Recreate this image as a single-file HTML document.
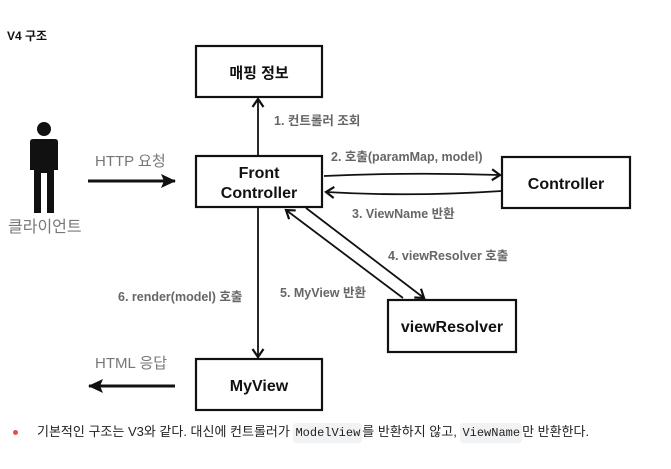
<!DOCTYPE html>
<html><head><meta charset="utf-8"><style>
body{margin:0;width:671px;height:469px;background:#fff;overflow:hidden;position:relative;font-family:"Liberation Sans","Noto Sans CJK KR",sans-serif}
svg{position:absolute;left:0;top:0}
.b{position:absolute;left:37px;top:423px;font-size:13px;color:#222;white-space:nowrap;line-height:18px;font-family:"Liberation Sans","Noto Sans CJK KR",sans-serif}
code{font-family:"Liberation Mono",monospace;font-size:12px;background:#f1f2f4;padding:3px 2px;border-radius:3px}
.dot{position:absolute;left:13px;top:430px;width:5px;height:5px;border-radius:50%;background:#e05050}
</style></head><body>
<svg width="671" height="469" viewBox="0 0 671 469">
<defs><marker id="a" markerWidth="14" markerHeight="14" refX="10" refY="7" orient="auto" markerUnits="userSpaceOnUse"><path d="M2,1.5 L10,7 L2,12.5" fill="none" stroke="#111" stroke-width="2.2"/></marker>
<marker id="t" markerWidth="16" markerHeight="16" refX="14" refY="8" orient="auto" markerUnits="userSpaceOnUse"><path d="M0,1 L15,8 L0,15 L3,8Z" fill="#111"/></marker></defs>
<text x="7" y="40" font-size="12" font-weight="bold" fill="#111">V4 구조</text>
<g fill="#fff" stroke="#111" stroke-width="2.2">
<rect x="196" y="46" width="126" height="51"/>
<rect x="196" y="156" width="126" height="51"/>
<rect x="502" y="157" width="128" height="51"/>
<rect x="388" y="300" width="128" height="52"/>
<rect x="196" y="359" width="126" height="51"/>
</g>
<g font-size="16" fill="#111" text-anchor="middle" font-weight="bold">
<text x="259" y="78" font-size="15">매핑 정보</text>
<text x="259" y="178">Front</text><text x="259" y="198">Controller</text>
<text x="566" y="189">Controller</text>
<text x="452" y="332">viewResolver</text>
<text x="259" y="391">MyView</text>
</g>
<g stroke="#111" stroke-width="1.8" fill="none" marker-end="url(#a)">
<path d="M258 156 L258 99"/>
<path d="M324 176 Q410 172 500 175"/>
<path d="M502 191 Q410 197 326 192"/>
<path d="M306 208 L424 298"/>
<path d="M403 298 L286 210"/>
<path d="M258 208 L258 357"/>
</g>
<g stroke="#111" stroke-width="3" marker-end="url(#t)">
<path d="M88 181 L175 181"/>
<path d="M175 386 L89 386"/>
</g>
<g font-size="12.5" font-weight="bold" fill="#666">
<text x="274" y="125">1. 컨트롤러 조회</text>
<text x="331" y="161">2. 호출(paramMap, model)</text>
<text x="352" y="218">3. ViewName 반환</text>
<text x="388" y="260">4. viewResolver 호출</text>
<text x="280" y="297">5. MyView 반환</text>
<text x="118" y="301">6. render(model) 호출</text>
</g>
<g font-size="15" fill="#777">
<text x="95" y="166">HTTP 요청</text>
<text x="95" y="368">HTML 응답</text>
<text x="8" y="232" font-size="16">클라이언트</text>
</g>
<g fill="#111">
<circle cx="44" cy="129" r="7"/>
<path d="M33 139 H55 Q58 139 58 142 V170 H54 V213 H47 V173 H41 V213 H34 V170 H30 V142 Q30 139 33 139Z"/>
</g>
</svg>
<div class="dot"></div>
<div class="b">기본적인 구조는 V3와 같다. 대신에 컨트롤러가 <code>ModelView</code>를 반환하지 않고, <code>ViewName</code>만 반환한다.</div>
</body></html>
